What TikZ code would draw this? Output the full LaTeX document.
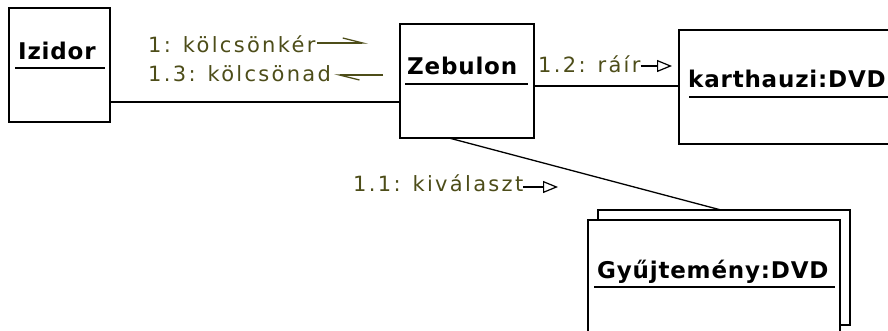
\documentclass[tikz,border=0pt]{standalone}
\usepackage{fontspec}
\setmainfont{DejaVu Sans}
\usetikzlibrary{arrows.meta, positioning, calc}

\definecolor{msgtext}{RGB}{77,77,25}

\tikzset{
  objbox/.style={draw, line width=1.3pt, fill=white, inner sep=0pt, outer sep=0pt},
  objname/.style={font=\fontsize{23}{26}\selectfont\bfseries\addfontfeature{LetterSpace=3.5}, inner sep=0pt, anchor=base west},
  uline/.style={line width=1.3pt},
  assoc/.style={line width=1.3pt},
  msglabel/.style={text=msgtext, font=\fontsize{21}{24}\selectfont\addfontfeature{LetterSpace=11}, inner sep=0pt, anchor=base west},
  harpmsg/.style={draw=msgtext, line width=1.3pt, -{Straight Barb[harpoon, length=20pt, width=10pt]}},
  trimsg/.style={draw=black, line width=1.2pt, -{Triangle[open, length=15pt, width=12pt]}}
}

\begin{document}
\begin{tikzpicture}[x=1pt, y=-1pt]
    \useasboundingbox (0,0) rectangle (888,331);
    \clip (0,0) rectangle (888,331);

    % --- OBJECTS ---
    \node[objbox, minimum width=101pt, minimum height=114pt] (izidor) at (59.5,65) {};
    \node[objbox, minimum width=134pt, minimum height=114pt] (zebulon) at (467,81) {};
    \node[objbox, minimum width=221pt, minimum height=114pt] (karthauzi) at (789.5,87) {};
    % stacked multi-object
    \node[objbox, minimum width=252pt, minimum height=115pt] (gyujtback) at (724,267.5) {};
    \node[objbox, minimum width=252pt, minimum height=115pt] (gyujt) at (714,277.5) {};

    % Names, underlined
    \node[objname] (izidorname) at (18,60) {Izidor};
    \draw[uline] (15,68) -- (105,68);
    \node[objname] (zebulonname) at (407,75) {Zebulon};
    \draw[uline] (405,84) -- (528,84);
    \node[objname] (karthauziname) at (688,88) {karthauzi:DVD};
    \draw[uline] (689,97) -- (900,97);
    \node[objname] (gyujtname) at (597,278) {Gyűjtemény:DVD};
    \draw[uline] (594,287) -- (835,287);

    % --- LINKS ---
    \draw[assoc] (izidor.east |- 0,102) -- (zebulon.west |- 0,102);
    \draw[assoc] (zebulon.east |- 0,86) -- (karthauzi.west |- 0,86);
    \draw[assoc] (zebulon.south -| 449,0) -- (gyujtback.north -| 721,0);

    % --- MESSAGES ---
    \node[msglabel] (msgkoelcsoenker) at (148,53) {1: kölcsönkér};
    \coordinate (tipkoelcsoenker) at (368,43);
    \draw[harpmsg] ([xshift=1pt]msgkoelcsoenker.east |- tipkoelcsoenker) -- (tipkoelcsoenker);

    \node[msglabel] (msgkoelcsoenad) at (148,82) {1.3: kölcsönad};
    \coordinate (tailkoelcsoenad) at (383,75);
    \draw[harpmsg] (tailkoelcsoenad) -- ([xshift=3pt]msgkoelcsoenad.east |- tailkoelcsoenad);

    \node[msglabel] (msgrair) at (538,73) {1.2: ráír};
    \coordinate (tiprair) at (672,66);
    \draw[trimsg] (msgrair.east |- tiprair) -- (tiprair);

    \node[msglabel] (msgkivalaszt) at (353,192) {1.1: kiválaszt};
    \coordinate (tipkivalaszt) at (558,187);
    \draw[trimsg] (msgkivalaszt.east |- tipkivalaszt) -- (tipkivalaszt);
\end{tikzpicture}
\end{document}
